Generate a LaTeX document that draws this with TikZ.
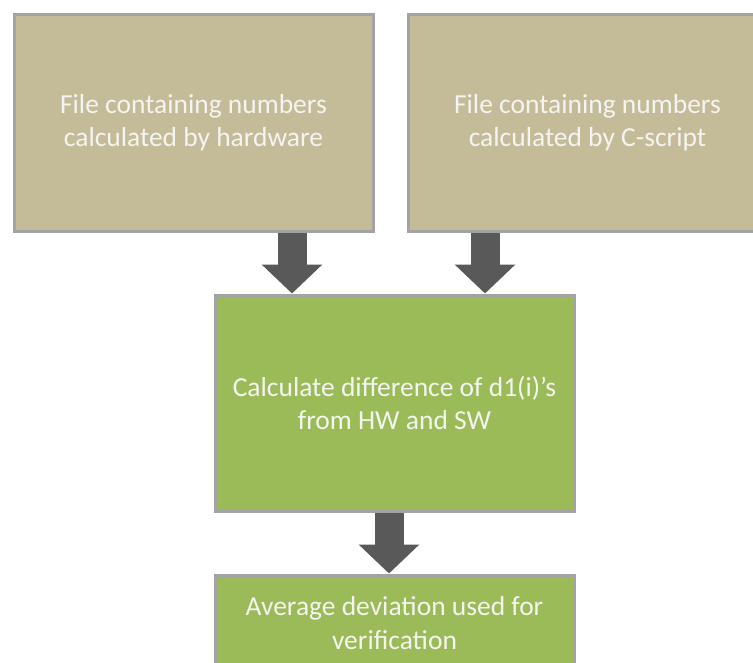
\documentclass[tikz,border=0pt]{standalone}
\usepackage{fontspec}
\setmainfont{Carlito}
\usetikzlibrary{arrows.meta,calc}
\definecolor{tanfill}{HTML}{C4BC98}
\definecolor{greenfill}{HTML}{9BBB59}
\definecolor{boxedge}{HTML}{A3A3A3}
\definecolor{arrowgray}{HTML}{595959}
\definecolor{boxtext}{HTML}{F4F4F0}
\begin{document}
\begin{tikzpicture}[x=1pt,y=-1pt,
  box/.style={draw=boxedge, line width=3pt, inner sep=0pt, align=center,
    text=boxtext, font=\fontsize{27.5}{33.5}\selectfont, anchor=north west},
  flow/.style={draw=arrowgray, line width=29pt,
    -{Triangle[length=29pt,width=59pt]}, arrowgray}]
\useasboundingbox (0,0) rectangle (753,662);
% input files
\node[box, fill=tanfill, minimum width=359pt, minimum height=217pt] (hw) at (12.5,12.5)
  {File containing numbers\\calculated by hardware};
\node[box, fill=tanfill, minimum width=359pt, minimum height=217pt] (sw) at (406.5,12.5)
  {File containing numbers\\calculated by C-script};
% processing steps
\node[box, fill=greenfill, minimum width=359pt, minimum height=216pt] (diff) at (213.5,293.5)
  {Calculate difference of d1(i)'s\\from HW and SW};
\node[box, fill=greenfill, minimum width=359pt, minimum height=96pt] (avg) at (213.5,573.5)
  {Average deviation used for\\verification};
% block arrows
\draw[flow] (292,0 |- hw.south) -- (292,0 |- diff.north);
\draw[flow] (485,0 |- sw.south) -- (485,0 |- diff.north);
\draw[flow] (389,0 |- diff.south) -- (389,0 |- avg.north);
\end{tikzpicture}
\end{document}
